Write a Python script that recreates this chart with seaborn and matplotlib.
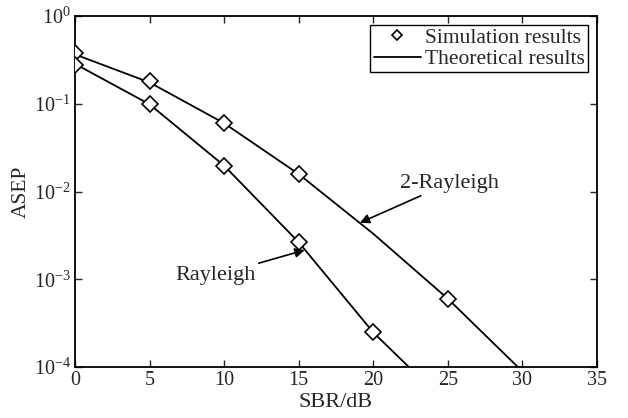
import numpy as np
import pandas as pd
import matplotlib
matplotlib.use("Agg")
import matplotlib.pyplot as plt
import seaborn as sns

# Simulation points
sim_x_2ray = [0, 5, 10, 15, 25]
sim_y_2ray = [0.38, 0.18, 0.060, 0.0158, 6.0e-4]
sim_x_ray = [0, 5, 10, 15, 20]
sim_y_ray = [0.28, 0.0985, 0.0197, 2.64e-3, 2.48e-4]

# Theoretical curves
th_x_2ray = [0, 5, 10, 15, 20, 25, 30]
th_y_2ray = [0.365, 0.175, 0.060, 0.0158, 3.3e-3, 6.0e-4, 8.9e-5]
th_x_ray = [0, 5, 10, 15, 20, 25]
th_y_ray = [0.285, 0.0985, 0.0197, 2.64e-3, 2.48e-4, 3.7e-5]

x_ticks = [0, 5, 10, 15, 20, 25, 30, 35]

sns.set_style("ticks")
plt.rcParams['font.family'] = ['Liberation Serif', 'DejaVu Serif']
plt.rcParams['mathtext.fontset'] = 'custom'
plt.rcParams['mathtext.rm'] = 'Liberation Serif'
plt.rcParams['mathtext.it'] = 'Liberation Serif:italic'

fig = plt.figure(figsize=(6.28, 4.18), dpi=100)
ax = fig.add_axes([0.1194, 0.122, 0.8312, 0.8397])

th1 = pd.DataFrame({"x": th_x_2ray, "y": th_y_2ray})
th2 = pd.DataFrame({"x": th_x_ray, "y": th_y_ray})

sns.lineplot(data=th1, x="x", y="y", ax=ax, color="black", lw=1.3, label="Theoretical results")
sns.lineplot(data=th2, x="x", y="y", ax=ax, color="black", lw=1.3)
ax.plot(sim_x_2ray, sim_y_2ray, linestyle="none", marker="D", ms=8, mfc="white",
        mec="black", mew=1.2, label="Simulation results", zorder=5)
ax.plot(sim_x_ray, sim_y_ray, linestyle="none", marker="D", ms=8, mfc="white",
        mec="black", mew=1.2, zorder=5)

ax.set_yscale("log")
ax.set_xlim(0, 35)
ax.set_ylim(1e-4, 1)
ax.set_xticks(x_ticks)
ax.set_yticks([1e-4, 1e-3, 1e-2, 1e-1, 1])
ax.yaxis.set_minor_locator(matplotlib.ticker.NullLocator())
ax.tick_params(direction="in", length=5, width=1, labelsize=14.5, top=True, right=True, pad=3)
for s in ax.spines.values():
    s.set_linewidth(1.3)
    s.set_color("black")

ax.set_xlabel("SBR/dB", fontsize=16, labelpad=2)
ax.set_ylabel("ASEP", fontsize=15.5, labelpad=2)

handles, labels = ax.get_legend_handles_labels()
order = [labels.index("Simulation results"), labels.index("Theoretical results")]
leg = ax.legend([handles[i] for i in order], [labels[i] for i in order],
                loc="upper right", fontsize=15.5, frameon=True, fancybox=False,
                edgecolor="black", framealpha=1, borderpad=0.15, labelspacing=0.05,
                handlelength=2.2, handletextpad=0.2, borderaxespad=0.4,
                markerscale=0.7)
leg.get_frame().set_linewidth(1.0)

ax.annotate("2-Rayleigh", xy=(19.1, 4.4e-3), xytext=(21.8, 0.0125),
            fontsize=16, ha="left", va="center",
            arrowprops=dict(arrowstyle="-|>", color="black", lw=1.2, mutation_scale=14,
                            shrinkA=0, shrinkB=0))
ax.annotate("Rayleigh", xy=(15.4, 2.15e-3), xytext=(12.1, 1.1e-3),
            fontsize=16, ha="right", va="center",
            arrowprops=dict(arrowstyle="-|>", color="black", lw=1.2, mutation_scale=14,
                            shrinkA=0, shrinkB=0))

fig.savefig("out.png", dpi=100)
